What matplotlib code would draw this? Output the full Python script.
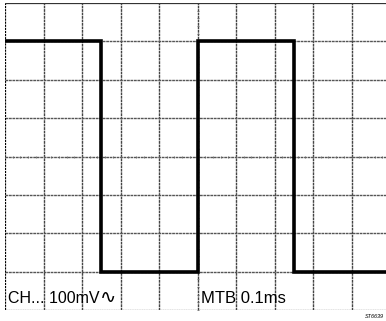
import matplotlib
matplotlib.use("Agg")
import matplotlib.pyplot as plt
import numpy as np

# square wave: switching times (divisions) and levels (divisions from bottom)
edge_times = [0, 2.5, 5.0, 7.5, 9.9]
levels = [7, 1, 7, 1, 1]
ch_label = "CH... 100mV"
wave_sign = "\u223f"
tb_label = "MTB 0.1ms"
ref_code = "ST6639"

plt.rcParams["font.family"] = ["Liberation Sans", "DejaVu Sans"]

W, H = 386, 321
fig = plt.figure(figsize=(W / 100, H / 100), dpi=100)
x0, y0 = 5, 310
div = 38.5
ax = fig.add_axes([x0 / W, (H - y0) / H, (W - x0) / W, (y0 - 3) / H])
ax.set_xlim(0, (W - x0) / div)
ax.set_ylim(0, 8)
ax.axis("off")

# graticule
for gx in range(1, 10):
    ax.axvline(gx, color="#444444", lw=1.0, ls=(0, (2, 0.5)))
for gy in range(1, 8):
    ax.axhline(gy, color="#555555", lw=1.0, ls=(0, (2, 0.5)))
ax.axvline(0, color="black", lw=1.6, ls=(0, (1, 0.4)))
ax.axhline(8, color="#333333", lw=0.9)
ax.axhline(0, color="#333333", lw=0.9, ls=(0, (1, 0.4)))

# faint ticks along the centre lines
minor = np.arange(0, 10, 0.2)
ax.plot(minor, np.full_like(minor, 4), "|", color="#666666", ms=2, mew=0.6)
minor_y = np.arange(0, 8, 0.2)
ax.plot(np.full_like(minor_y, 5), minor_y, "_", color="#666666", ms=2, mew=0.6)

# trace
ax.step(edge_times, levels, where="post", color="black", lw=2.6,
        solid_joinstyle="miter")

t = ax.text(0.07, 0.18, ch_label, fontsize=11.5, ha="left", va="baseline")
ax.annotate(wave_sign, xy=(1, 0), xycoords=t, xytext=(0.2, -1),
            textcoords="offset points", fontsize=14, va="bottom",
            family="DejaVu Sans")
ax.text(5.08, 0.18, tb_label, fontsize=12, ha="left", va="baseline")
fig.text(1 - 2 / W, 1 - 318 / H, ref_code, fontsize=4, ha="right",
         va="baseline", style="italic")

fig.savefig("out.png", dpi=100)
